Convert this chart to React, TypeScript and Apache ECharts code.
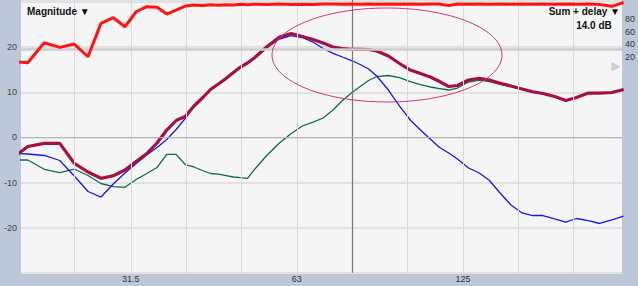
import React, { useEffect, useRef } from "react";
import * as echarts from "echarts";

// Frequencies (Hz) of the measurement points
const FREQS = [19.04, 20.51, 21.97, 23.44, 24.9, 26.37, 27.83, 29.3, 30.76, 32.23, 33.69, 35.16, 36.62, 38.08, 39.55, 41.01, 42.48, 43.94, 45.41, 46.87, 48.34, 49.8, 51.27, 52.73, 55.66, 58.59, 61.52, 64.45, 67.38, 70.31, 73.24, 76.17, 79.1, 82.03, 84.96, 87.89, 92.28, 96.68, 101.07, 105.47, 109.86, 114.25, 118.65, 123.05, 128.9, 134.77, 140.62, 146.48, 153.8, 161.13, 168.45, 175.78, 184.56, 193.35, 202.14, 212.4, 222.65, 234.37, 246.09];

// Sum + delay (dB)
const SUM_DB = [-5.01, -2.02, -1.31, -1.31, -5.74, -7.67, -9.07, -8.51, -7.23, -5.34, -3.57, -1.24, 1.64, 3.75, 4.63, 6.96, 8.74, 10.62, 11.84, 13.06, 14.39, 15.61, 16.5, 17.61, 20.16, 22.26, 23.04, 22.37, 21.71, 20.93, 20.04, 19.71, 19.53, 19.53, 19.49, 19.16, 18.05, 16.39, 14.94, 14.17, 13.39, 12.39, 11.29, 11.51, 12.73, 13.1, 12.73, 12.06, 11.4, 10.73, 10.13, 9.73, 9.07, 8.18, 8.85, 9.84, 9.84, 9.96, 10.62];

// Blue trace (dB)
const BLUE_DB = [-3.46, -3.68, -4.01, -5.12, -8.56, -12.0, -13.22, -10.33, -7.89, -5.79, -3.9, -2.24, -0.47, 1.75, 4.19, 6.85, 8.63, 10.51, 11.73, 12.95, 14.28, 15.5, 16.39, 17.49, 19.93, 21.82, 22.59, 22.15, 21.15, 19.71, 18.65, 17.83, 17.05, 16.16, 15.17, 13.61, 10.51, 6.96, 3.86, 1.64, -0.35, -2.24, -3.46, -4.79, -6.78, -7.89, -9.56, -12.11, -14.99, -16.76, -17.32, -17.32, -18.09, -18.76, -17.98, -18.43, -19.09, -18.31, -17.43];

// Green trace (dB)
const GREEN_DB = [-5.01, -5.01, -7.07, -7.83, -7.01, -8.45, -10.22, -10.93, -11.06, -9.33, -8.0, -6.67, -3.75, -3.75, -6.01, -6.56, -7.34, -8.0, -8.12, -8.45, -8.78, -8.94, -9.07, -7.19, -3.9, -1.24, 0.86, 2.53, 3.41, 4.3, 6.08, 8.18, 9.84, 11.29, 12.62, 13.5, 13.73, 13.28, 12.39, 11.73, 11.18, 10.84, 10.51, 10.95, 12.28, 12.73, 12.39, 11.84, 11.29, 10.67, 10.07, 9.67, 9.0, 8.12, 8.78, 9.78, 9.78, 9.89, 10.55];

// Red trace on the right-hand scale
const TOP_RED = [13.7, 11.0, 42.6, 35.3, 40.5, 20.5, 73.2, 82.1, 67.8, 91.5, 99.4, 98.5, 87.9, 94.2, 100.5, 102.1, 101.3, 102.4, 101.8, 102.7, 102.1, 103.2, 102.7, 103.2, 102.9, 103.7, 103.1, 103.4, 102.9, 103.6, 103.7, 103.2, 103.7, 103.4, 103.7, 103.2, 103.6, 103.4, 103.7, 103.3, 103.7, 103.5, 101.2, 103.7, 103.4, 103.7, 103.3, 103.7, 103.4, 103.7, 103.3, 103.6, 103.4, 103.7, 103.4, 103.6, 102.9, 100.0, 106.0];

// Third-octave grid (Hz) and labelled ticks
const GRID_FREQS = [25, 31.5, 40, 50, 63, 80, 100, 125, 160, 200];
const X_LABELS = ["31.5", "63", "125"];
const X_LABEL_INDEX = [1, 4, 7];
const Y_LABELS = [-20, -10, 0, 10, 20];
const RIGHT_LABELS = [20, 40, 60, 80];
const CURSOR_FREQ = 79.4;
const X_MIN_HZ = 19.94;
const X_MAX_HZ = 244.4;

export default function App() {
  const ref = useRef<HTMLDivElement>(null);
  useEffect(() => {
    if (!ref.current) return;
    const chart = echarts.init(ref.current, null, { renderer: "svg" });
    const lg = (f: number) => Math.log2(f);
    // exact third-octave positions relative to 25 Hz
    const gridPos = GRID_FREQS.map((_, i) => lg(25) + i / 3);
    const labelPos = X_LABEL_INDEX.map((i) => gridPos[i]);
    const mk = (arr: number[]) => FREQS.map((f, i) => [lg(f), arr[i]]);
    const font = "Liberation Sans";

    chart.setOption({
      animation: false,
      backgroundColor: "#bcc8d8",
      grid: {
        left: 21,
        top: 0,
        width: 601.5,
        height: 272.7,
        show: true,
        backgroundColor: "#f5f5f5",
        borderWidth: 0,
      },
      xAxis: {
        type: "value",
        min: lg(X_MIN_HZ),
        max: lg(X_MAX_HZ),
        axisLine: { show: false },
        axisTick: { show: false },
        splitLine: { show: false },
        axisLabel: {
          customValues: labelPos,
          formatter: (v: number) => {
            const idx = labelPos.findIndex((p) => Math.abs(p - v) < 1e-6);
            return idx >= 0 ? X_LABELS[idx] : "";
          },
          fontSize: 9,
          color: "#333",
          fontFamily: font,
          margin: 2,
        },
      },
      yAxis: [
        {
          type: "value",
          min: -30,
          max: 30.47,
          interval: 10,
          axisLine: { show: false },
          axisTick: { show: false },
          splitLine: { show: true, lineStyle: { color: "#e2e2e2", width: 2 } },
          axisLabel: {
            formatter: (v: number) => (Y_LABELS.indexOf(v) >= 0 ? String(v) : ""),
            fontSize: 9,
            color: "#444",
            fontFamily: font,
            margin: 4,
          },
        },
        {
          type: "value",
          position: "right",
          min: -320,
          max: 110,
          interval: 20,
          axisLine: { show: false },
          axisTick: { show: false },
          splitLine: { show: false },
          axisLabel: {
            formatter: (v: number) => (RIGHT_LABELS.indexOf(v) >= 0 ? String(v) : ""),
            fontSize: 9,
            color: "#333",
            fontFamily: font,
            margin: 3,
          },
        },
      ],
      series: [
        {
          type: "line",
          data: [],
          silent: true,
          z: 1,
          markLine: {
            silent: true,
            symbol: "none",
            label: { show: false },
            data: [
              ...gridPos.map((x) => ({ xAxis: x, lineStyle: { color: "#d9d9dc", width: 1, type: "solid" } })),
              { xAxis: lg(CURSOR_FREQ), lineStyle: { color: "#7a7a7a", width: 1.2, type: "solid" } },
              { yAxis: 0, lineStyle: { color: "#b4b4b4", width: 1.2, type: "solid" } },
              { yAxis: 19.5, lineStyle: { color: "#cdcdcd", width: 2.5, type: "solid" } },
            ],
          },
        },
        {
          type: "line",
          data: mk(GREEN_DB),
          showSymbol: false,
          z: 3,
          lineStyle: { color: "#0e6b4c", width: 1.3 },
        },
        {
          type: "line",
          data: mk(BLUE_DB),
          showSymbol: false,
          z: 3,
          lineStyle: { color: "#1717f0", width: 1.3 },
        },
        {
          type: "line",
          data: mk(SUM_DB),
          showSymbol: false,
          z: 4,
          lineStyle: { color: "#a3123e", width: 3.2 },
        },
        {
          type: "line",
          yAxisIndex: 1,
          data: mk(TOP_RED),
          showSymbol: false,
          z: 5,
          lineStyle: { color: "#ff1414", width: 3 },
        },
      ],
      graphic: [
        {
          type: "ellipse",
          shape: { cx: 387, cy: 55, rx: 115, ry: 47 },
          style: { fill: "none", stroke: "#d4327a", lineWidth: 1 },
          z: 20,
        },
        {
          type: "text",
          x: 27,
          y: 11,
          style: {
            text: "Magnitude ▼",
            font: `bold 10px "${font}"`,
            fill: "#111",
            textVerticalAlign: "middle",
          },
          z: 20,
        },
        {
          type: "text",
          x: 620,
          y: 11,
          style: {
            text: "Sum + delay ▼",
            font: `bold 10px "${font}"`,
            fill: "#111",
            textAlign: "right",
            textVerticalAlign: "middle",
          },
          z: 20,
        },
        {
          type: "text",
          x: 594,
          y: 25,
          style: {
            text: "14.0 dB",
            font: `bold 10px "${font}"`,
            fill: "#111",
            textAlign: "center",
            textVerticalAlign: "middle",
          },
          z: 20,
        },
        {
          type: "polygon",
          shape: { points: [[612, 63], [612, 70.5], [619.5, 66.7]] },
          style: { fill: "#d2d2d2", stroke: "#c0c0c0", lineWidth: 0.8 },
          z: 20,
        },
      ],
    });
    return () => chart.dispose();
  }, []);
  return (
    <div
      ref={ref}
      style={{ position: "fixed", left: 0, top: 0, width: 638, height: 286 }}
    />
  );
}
